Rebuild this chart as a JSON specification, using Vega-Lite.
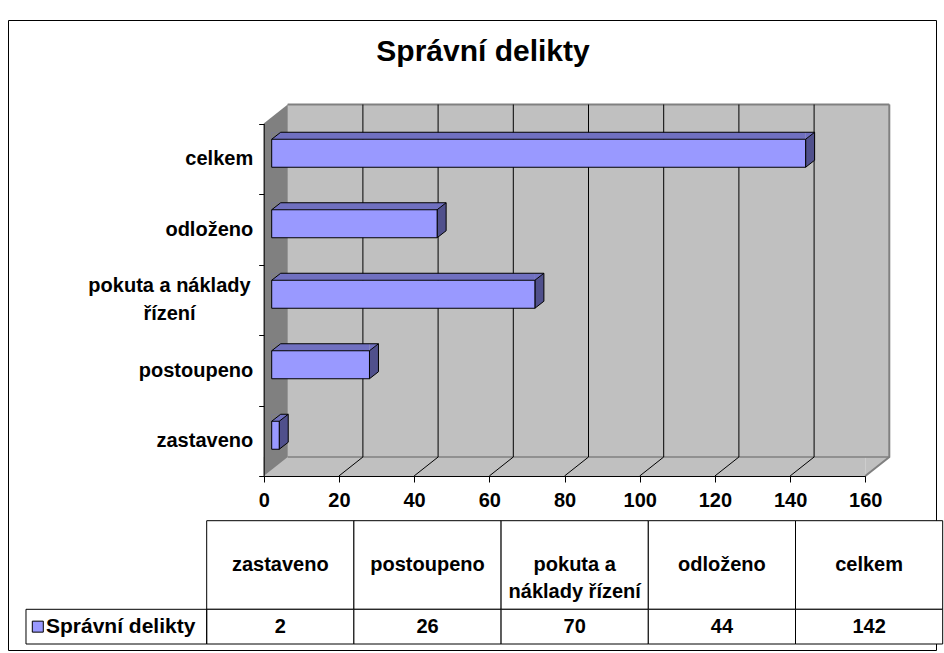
{
  "$schema": "https://vega.github.io/schema/vega-lite/v6.json",
  "width": 928,
  "height": 630,
  "autosize": {"type": "none"},
  "padding": {"left": 8, "top": 20, "right": 8, "bottom": 3},
  "background": "white",
  "config": {
    "view": {"stroke": "black", "strokeWidth": 1, "fill": "white"},
    "font": "Liberation Sans"
  },
  "title": {
    "text": "Správní delikty",
    "font": "Liberation Sans",
    "fontSize": 30,
    "fontWeight": "bold",
    "color": "black",
    "anchor": "middle",
    "frame": "group",
    "dx": 11,
    "offset": -81,
    "baseline": "alphabetic"
  },
  "data": {
    "values": [
      {"cat": "zastaveno", "value": 2, "series": "Správní delikty"},
      {"cat": "postoupeno", "value": 26, "series": "Správní delikty"},
      {"cat": "pokuta a náklady řízení", "value": 70, "series": "Správní delikty"},
      {"cat": "odloženo", "value": 44, "series": "Správní delikty"},
      {"cat": "celkem", "value": 142, "series": "Správní delikty"}
    ]
  },
  "resolve": {"scale": {"x": "independent", "y": "independent"}, "axis": {"x": "independent", "y": "independent"}},
  "layer": [
    {
      "mark": {"type": "rect", "fill": "#C0C0C0", "stroke": "#C0C0C0", "strokeWidth": 1, "xOffset": 24, "x2Offset": 24, "yOffset": -19, "y2Offset": -19},
      "encoding": {
        "x": {
          "datum": 0, "type": "quantitative",
          "scale": {"domain": [0, 160], "range": [255.7, 857.3], "nice": false, "zero": false},
          "axis": {
            "orient": "bottom", "offset": -174, "values": [0, 20, 40, 60, 80, 100, 120, 140, 160],
            "grid": false, "domain": true, "domainColor": "black", "domainWidth": 1,
            "ticks": true, "tickColor": "black", "tickSize": 6, "tickWidth": 1,
            "labelFont": "Liberation Sans", "labelFontSize": 20, "labelFontWeight": "bold", "labelColor": "black",
            "labelPadding": 8, "labelFlush": false, "labelOverlap": false, "labelBound": false,
            "title": null, "zindex": 1
          }
        },
        "x2": {"datum": 160},
        "y": {
          "field": "cat", "type": "nominal",
          "scale": {"type": "band", "domain": ["celkem", "odloženo", "pokuta a náklady řízení", "postoupeno", "zastaveno"], "range": [103.5, 456], "paddingInner": 0, "paddingOuter": 0},
          "axis": {
            "orient": "left", "offset": -255.7, "tickBand": "extent", "grid": false,
            "domainColor": "black", "domainWidth": 1, "tickColor": "black", "tickSize": 5, "tickWidth": 1,
            "labelFont": "Liberation Sans", "labelFontSize": 20, "labelFontWeight": "bold", "labelColor": "black",
            "labelLimit": 400, "labelLineHeight": 28,
            "labelExpr": "datum.value === 'pokuta a náklady řízení' ? ['pokuta a náklady', 'řízení'] : datum.label",
            "labelAlign": {"condition": {"test": "datum.value === 'pokuta a náklady řízení'", "value": "center"}, "value": "right"},
            "labelPadding": {"condition": {"test": "datum.value === 'pokuta a náklady řízení'", "value": 89.7}, "value": 6},
            "labelOffset": {"condition": {"test": "datum.value === 'pokuta a náklady řízení'", "value": -14}, "value": 0},
            "title": null, "zindex": 1
          }
        }
      }
    },
    {
      "transform": [{"filter": "datum.cat === 'celkem'"}],
      "mark": {"type": "rule", "stroke": "#808080", "strokeWidth": 2, "xOffset": 24, "x2Offset": 24, "yOffset": -54.25},
      "encoding": {
        "x": {"datum": 0, "type": "quantitative", "scale": {"domain": [0, 160], "range": [255.7, 857.3], "nice": false, "zero": false}, "axis": null},
        "x2": {"datum": 160},
        "y": {"field": "cat", "type": "nominal", "scale": {"type": "band", "domain": ["celkem", "odloženo", "pokuta a náklady řízení", "postoupeno", "zastaveno"], "range": [103.5, 456], "paddingInner": 0, "paddingOuter": 0}, "axis": null}
      }
    },
    {
      "transform": [{"filter": "datum.cat === 'zastaveno'"}],
      "mark": {"type": "bar", "size": 19, "fill": "#C0C0C0", "yOffset": 25.75, "y2Offset": 25.75},
      "encoding": {
        "x": {"datum": 0, "type": "quantitative", "scale": {"domain": [0, 160], "range": [255.7, 857.3], "nice": false, "zero": false}, "axis": null},
        "x2": {"datum": 160},
        "y": {"field": "cat", "type": "nominal", "scale": {"type": "band", "domain": ["celkem", "odloženo", "pokuta a náklady řízení", "postoupeno", "zastaveno"], "range": [103.5, 456], "paddingInner": 0, "paddingOuter": 0}, "axis": null}
      }
    },
    {
      "transform": [{"filter": "datum.cat === 'zastaveno'"}],
      "mark": {"type": "point", "shape": "M 0 35.25 L 0 16.25 L 24 16.25 Z", "size": 4, "filled": true, "fill": "#C0C0C0", "strokeWidth": 0, "opacity": 1},
      "encoding": {
        "x": {"datum": 160, "type": "quantitative", "scale": {"domain": [0, 160], "range": [255.7, 857.3], "nice": false, "zero": false}, "axis": null},
        "y": {"field": "cat", "type": "nominal", "scale": {"type": "band", "domain": ["celkem", "odloženo", "pokuta a náklady řízení", "postoupeno", "zastaveno"], "range": [103.5, 456], "paddingInner": 0, "paddingOuter": 0}, "axis": null}
      }
    },
    {
      "transform": [{"filter": "datum.cat === 'zastaveno'"}],
      "mark": {"type": "rule", "stroke": "#808080", "strokeWidth": 1.5, "xOffset": 24, "x2Offset": 24, "yOffset": 16.25},
      "encoding": {
        "x": {"datum": 0, "type": "quantitative", "scale": {"domain": [0, 160], "range": [255.7, 857.3], "nice": false, "zero": false}, "axis": null},
        "x2": {"datum": 160},
        "y": {"field": "cat", "type": "nominal", "scale": {"type": "band", "domain": ["celkem", "odloženo", "pokuta a náklady řízení", "postoupeno", "zastaveno"], "range": [103.5, 456], "paddingInner": 0, "paddingOuter": 0}, "axis": null}
      }
    },
    {
      "transform": [{"filter": "datum.cat === 'zastaveno'"}],
      "mark": {"type": "point", "shape": "M 0 35.25 L 24 16.25 L 24 -336.25", "size": 4, "filled": false, "stroke": "black", "strokeWidth": 1, "opacity": 1},
      "encoding": {
        "x": {"datum": 20, "type": "quantitative", "scale": {"domain": [0, 160], "range": [255.7, 857.3], "nice": false, "zero": false}, "axis": null},
        "y": {"field": "cat", "type": "nominal", "scale": {"type": "band", "domain": ["celkem", "odloženo", "pokuta a náklady řízení", "postoupeno", "zastaveno"], "range": [103.5, 456], "paddingInner": 0, "paddingOuter": 0}, "axis": null}
      }
    },
    {
      "transform": [{"filter": "datum.cat === 'zastaveno'"}],
      "mark": {"type": "point", "shape": "M 0 35.25 L 24 16.25 L 24 -336.25", "size": 4, "filled": false, "stroke": "black", "strokeWidth": 1, "opacity": 1},
      "encoding": {
        "x": {"datum": 40, "type": "quantitative", "scale": {"domain": [0, 160], "range": [255.7, 857.3], "nice": false, "zero": false}, "axis": null},
        "y": {"field": "cat", "type": "nominal", "scale": {"type": "band", "domain": ["celkem", "odloženo", "pokuta a náklady řízení", "postoupeno", "zastaveno"], "range": [103.5, 456], "paddingInner": 0, "paddingOuter": 0}, "axis": null}
      }
    },
    {
      "transform": [{"filter": "datum.cat === 'zastaveno'"}],
      "mark": {"type": "point", "shape": "M 0 35.25 L 24 16.25 L 24 -336.25", "size": 4, "filled": false, "stroke": "black", "strokeWidth": 1, "opacity": 1},
      "encoding": {
        "x": {"datum": 60, "type": "quantitative", "scale": {"domain": [0, 160], "range": [255.7, 857.3], "nice": false, "zero": false}, "axis": null},
        "y": {"field": "cat", "type": "nominal", "scale": {"type": "band", "domain": ["celkem", "odloženo", "pokuta a náklady řízení", "postoupeno", "zastaveno"], "range": [103.5, 456], "paddingInner": 0, "paddingOuter": 0}, "axis": null}
      }
    },
    {
      "transform": [{"filter": "datum.cat === 'zastaveno'"}],
      "mark": {"type": "point", "shape": "M 0 35.25 L 24 16.25 L 24 -336.25", "size": 4, "filled": false, "stroke": "black", "strokeWidth": 1, "opacity": 1},
      "encoding": {
        "x": {"datum": 80, "type": "quantitative", "scale": {"domain": [0, 160], "range": [255.7, 857.3], "nice": false, "zero": false}, "axis": null},
        "y": {"field": "cat", "type": "nominal", "scale": {"type": "band", "domain": ["celkem", "odloženo", "pokuta a náklady řízení", "postoupeno", "zastaveno"], "range": [103.5, 456], "paddingInner": 0, "paddingOuter": 0}, "axis": null}
      }
    },
    {
      "transform": [{"filter": "datum.cat === 'zastaveno'"}],
      "mark": {"type": "point", "shape": "M 0 35.25 L 24 16.25 L 24 -336.25", "size": 4, "filled": false, "stroke": "black", "strokeWidth": 1, "opacity": 1},
      "encoding": {
        "x": {"datum": 100, "type": "quantitative", "scale": {"domain": [0, 160], "range": [255.7, 857.3], "nice": false, "zero": false}, "axis": null},
        "y": {"field": "cat", "type": "nominal", "scale": {"type": "band", "domain": ["celkem", "odloženo", "pokuta a náklady řízení", "postoupeno", "zastaveno"], "range": [103.5, 456], "paddingInner": 0, "paddingOuter": 0}, "axis": null}
      }
    },
    {
      "transform": [{"filter": "datum.cat === 'zastaveno'"}],
      "mark": {"type": "point", "shape": "M 0 35.25 L 24 16.25 L 24 -336.25", "size": 4, "filled": false, "stroke": "black", "strokeWidth": 1, "opacity": 1},
      "encoding": {
        "x": {"datum": 120, "type": "quantitative", "scale": {"domain": [0, 160], "range": [255.7, 857.3], "nice": false, "zero": false}, "axis": null},
        "y": {"field": "cat", "type": "nominal", "scale": {"type": "band", "domain": ["celkem", "odloženo", "pokuta a náklady řízení", "postoupeno", "zastaveno"], "range": [103.5, 456], "paddingInner": 0, "paddingOuter": 0}, "axis": null}
      }
    },
    {
      "transform": [{"filter": "datum.cat === 'zastaveno'"}],
      "mark": {"type": "point", "shape": "M 0 35.25 L 24 16.25 L 24 -336.25", "size": 4, "filled": false, "stroke": "black", "strokeWidth": 1, "opacity": 1},
      "encoding": {
        "x": {"datum": 140, "type": "quantitative", "scale": {"domain": [0, 160], "range": [255.7, 857.3], "nice": false, "zero": false}, "axis": null},
        "y": {"field": "cat", "type": "nominal", "scale": {"type": "band", "domain": ["celkem", "odloženo", "pokuta a náklady řízení", "postoupeno", "zastaveno"], "range": [103.5, 456], "paddingInner": 0, "paddingOuter": 0}, "axis": null}
      }
    },
    {
      "transform": [{"filter": "datum.cat === 'zastaveno'"}],
      "mark": {"type": "point", "shape": "M 0 35.25 L 24 16.25 L 24 -336.25", "size": 4, "filled": false, "stroke": "#808080", "strokeWidth": 2, "opacity": 1},
      "encoding": {
        "x": {"datum": 160, "type": "quantitative", "scale": {"domain": [0, 160], "range": [255.7, 857.3], "nice": false, "zero": false}, "axis": null},
        "y": {"field": "cat", "type": "nominal", "scale": {"type": "band", "domain": ["celkem", "odloženo", "pokuta a náklady řízení", "postoupeno", "zastaveno"], "range": [103.5, 456], "paddingInner": 0, "paddingOuter": 0}, "axis": null}
      }
    },
    {
      "transform": [{"filter": "datum.cat === 'celkem'"}],
      "mark": {"type": "point", "shape": "M 0 -35.25 L 24 -54.25 L 24 298.25 L 0 317.25 Z", "size": 4, "filled": true, "fill": "#808080", "strokeWidth": 0, "opacity": 1},
      "encoding": {
        "x": {"datum": 0, "type": "quantitative", "scale": {"domain": [0, 160], "range": [255.7, 857.3], "nice": false, "zero": false}, "axis": null},
        "y": {"field": "cat", "type": "nominal", "scale": {"type": "band", "domain": ["celkem", "odloženo", "pokuta a náklady řízení", "postoupeno", "zastaveno"], "range": [103.5, 456], "paddingInner": 0, "paddingOuter": 0}, "axis": null}
      }
    },
    {
      "mark": {"type": "bar", "size": 7, "fill": "#7070C0", "xOffset": 8, "x2Offset": 8, "yOffset": -23, "y2Offset": -23},
      "encoding": {
        "x": {"field": "value", "type": "quantitative", "scale": {"domain": [0, 160], "range": [255.7, 857.3], "nice": false, "zero": false}, "axis": null},
        "x2": {"datum": 0},
        "y": {"field": "cat", "type": "nominal", "scale": {"type": "band", "domain": ["celkem", "odloženo", "pokuta a náklady řízení", "postoupeno", "zastaveno"], "range": [103.5, 456], "paddingInner": 0, "paddingOuter": 0}, "axis": null}
      }
    },
    {
      "mark": {"type": "point", "shape": "M 0 -14 L 9 -21 L 0 -21 Z", "size": 4, "filled": true, "fill": "#7070C0", "strokeWidth": 0, "opacity": 1, "xOffset": 8, "yOffset": -5.5},
      "encoding": {
        "x": {"field": "value", "type": "quantitative", "scale": {"domain": [0, 160], "range": [255.7, 857.3], "nice": false, "zero": false}, "axis": null},
        "y": {"field": "cat", "type": "nominal", "scale": {"type": "band", "domain": ["celkem", "odloženo", "pokuta a náklady řízení", "postoupeno", "zastaveno"], "range": [103.5, 456], "paddingInner": 0, "paddingOuter": 0}, "axis": null}
      }
    },
    {
      "mark": {"type": "point", "shape": "M 0 -14 L 9 -21 L 0 -21 Z", "size": 4, "filled": true, "fill": "#808080", "strokeWidth": 0, "opacity": 1, "xOffset": 8, "yOffset": -5.5},
      "encoding": {
        "x": {"datum": 0, "type": "quantitative", "scale": {"domain": [0, 160], "range": [255.7, 857.3], "nice": false, "zero": false}, "axis": null},
        "y": {"field": "cat", "type": "nominal", "scale": {"type": "band", "domain": ["celkem", "odloženo", "pokuta a náklady řízení", "postoupeno", "zastaveno"], "range": [103.5, 456], "paddingInner": 0, "paddingOuter": 0}, "axis": null}
      }
    },
    {
      "mark": {"type": "point", "shape": "M 0 -14 L 9 -21 L 9 7 L 0 14 Z", "size": 4, "filled": true, "fill": "#50508C", "stroke": "black", "strokeWidth": 1, "opacity": 1, "xOffset": 8, "yOffset": -5.5},
      "encoding": {
        "x": {"field": "value", "type": "quantitative", "scale": {"domain": [0, 160], "range": [255.7, 857.3], "nice": false, "zero": false}, "axis": null},
        "y": {"field": "cat", "type": "nominal", "scale": {"type": "band", "domain": ["celkem", "odloženo", "pokuta a náklady řízení", "postoupeno", "zastaveno"], "range": [103.5, 456], "paddingInner": 0, "paddingOuter": 0}, "axis": null}
      }
    },
    {
      "mark": {"type": "bar", "size": 28, "fill": "#9999FF", "stroke": "black", "strokeWidth": 1, "xOffset": 8, "x2Offset": 8, "yOffset": -5.5, "y2Offset": -5.5},
      "encoding": {
        "x": {"field": "value", "type": "quantitative", "scale": {"domain": [0, 160], "range": [255.7, 857.3], "nice": false, "zero": false}, "axis": null},
        "x2": {"datum": 0},
        "y": {"field": "cat", "type": "nominal", "scale": {"type": "band", "domain": ["celkem", "odloženo", "pokuta a náklady řízení", "postoupeno", "zastaveno"], "range": [103.5, 456], "paddingInner": 0, "paddingOuter": 0}, "axis": null}
      }
    },
    {
      "mark": {"type": "rule", "stroke": "black", "strokeWidth": 1, "xOffset": 17, "x2Offset": 17, "yOffset": -26.5},
      "encoding": {
        "x": {"field": "value", "type": "quantitative", "scale": {"domain": [0, 160], "range": [255.7, 857.3], "nice": false, "zero": false}, "axis": null},
        "x2": {"datum": 0},
        "y": {"field": "cat", "type": "nominal", "scale": {"type": "band", "domain": ["celkem", "odloženo", "pokuta a náklady řízení", "postoupeno", "zastaveno"], "range": [103.5, 456], "paddingInner": 0, "paddingOuter": 0}, "axis": null}
      }
    },
    {
      "mark": {"type": "point", "shape": "M 0 -14 L 9 -21", "size": 4, "filled": false, "stroke": "black", "strokeWidth": 1, "opacity": 1, "xOffset": 8, "yOffset": -5.5},
      "encoding": {
        "x": {"datum": 0, "type": "quantitative", "scale": {"domain": [0, 160], "range": [255.7, 857.3], "nice": false, "zero": false}, "axis": null},
        "y": {"field": "cat", "type": "nominal", "scale": {"type": "band", "domain": ["celkem", "odloženo", "pokuta a náklady řízení", "postoupeno", "zastaveno"], "range": [103.5, 456], "paddingInner": 0, "paddingOuter": 0}, "axis": null}
      }
    },
    {
      "transform": [{"calculate": "'header'", "as": "row"}],
      "mark": {"type": "rect", "fill": "white", "stroke": "black", "strokeWidth": 1},
      "encoding": {
        "x": {"field": "cat", "type": "nominal", "scale": {"type": "band", "domain": ["zastaveno", "postoupeno", "pokuta a náklady řízení", "odloženo", "celkem"], "range": [198.7, 934.7], "paddingInner": 0, "paddingOuter": 0}, "axis": null},
        "y": {"field": "row", "type": "nominal", "scale": {"type": "band", "domain": ["header"], "range": [500.7, 589.3], "paddingInner": 0, "paddingOuter": 0}, "axis": null}
      }
    },
    {
      "transform": [
        {"calculate": "'header'", "as": "row"},
        {"calculate": "datum.cat === 'pokuta a náklady řízení' ? ['pokuta a', 'náklady řízení'] : datum.cat", "as": "hdr"}
      ],
      "mark": {"type": "text", "font": "Liberation Sans", "fontSize": 20, "fontWeight": "bold", "color": "black", "lineHeight": 27, "baseline": "middle"},
      "encoding": {
        "x": {"field": "cat", "type": "nominal", "scale": {"type": "band", "domain": ["zastaveno", "postoupeno", "pokuta a náklady řízení", "odloženo", "celkem"], "range": [198.7, 934.7], "paddingInner": 0, "paddingOuter": 0}, "axis": null},
        "y": {"field": "row", "type": "nominal", "scale": {"type": "band", "domain": ["header"], "range": [500.7, 589.3], "paddingInner": 0, "paddingOuter": 0}, "axis": null},
        "text": {"field": "hdr"}
      }
    },
    {
      "transform": [{"calculate": "'value'", "as": "row"}],
      "mark": {"type": "rect", "fill": "white", "stroke": "black", "strokeWidth": 1},
      "encoding": {
        "x": {"field": "cat", "type": "nominal", "scale": {"type": "band", "domain": ["zastaveno", "postoupeno", "pokuta a náklady řízení", "odloženo", "celkem"], "range": [198.7, 934.7], "paddingInner": 0, "paddingOuter": 0}, "axis": null},
        "y": {"field": "row", "type": "nominal", "scale": {"type": "band", "domain": ["value"], "range": [589.3, 624], "paddingInner": 0, "paddingOuter": 0}, "axis": null}
      }
    },
    {
      "transform": [{"calculate": "'value'", "as": "row"}],
      "mark": {"type": "text", "font": "Liberation Sans", "fontSize": 20, "fontWeight": "bold", "color": "black", "baseline": "middle"},
      "encoding": {
        "x": {"field": "cat", "type": "nominal", "scale": {"type": "band", "domain": ["zastaveno", "postoupeno", "pokuta a náklady řízení", "odloženo", "celkem"], "range": [198.7, 934.7], "paddingInner": 0, "paddingOuter": 0}, "axis": null},
        "y": {"field": "row", "type": "nominal", "scale": {"type": "band", "domain": ["value"], "range": [589.3, 624], "paddingInner": 0, "paddingOuter": 0}, "axis": null},
        "text": {"field": "value", "type": "quantitative"}
      }
    },
    {
      "transform": [{"filter": "datum.cat === 'zastaveno'"}, {"calculate": "'value'", "as": "row"}],
      "mark": {"type": "point", "shape": "M -254.3 -17.35 L -73.6 -17.35 L -73.6 17.35 L -254.3 17.35 Z", "size": 4, "filled": false, "stroke": "black", "strokeWidth": 1, "opacity": 1},
      "encoding": {
        "x": {"field": "cat", "type": "nominal", "scale": {"type": "band", "domain": ["zastaveno", "postoupeno", "pokuta a náklady řízení", "odloženo", "celkem"], "range": [198.7, 934.7], "paddingInner": 0, "paddingOuter": 0}, "axis": null},
        "y": {"field": "row", "type": "nominal", "scale": {"type": "band", "domain": ["value"], "range": [589.3, 624], "paddingInner": 0, "paddingOuter": 0}, "axis": null}
      }
    },
    {
      "transform": [{"filter": "datum.cat === 'zastaveno'"}, {"calculate": "'value'", "as": "row"}],
      "mark": {"type": "point", "shape": "square", "size": 121, "filled": true, "fill": "#9999FF", "stroke": "black", "strokeWidth": 1, "opacity": 1, "xOffset": -242.5},
      "encoding": {
        "x": {"field": "cat", "type": "nominal", "scale": {"type": "band", "domain": ["zastaveno", "postoupeno", "pokuta a náklady řízení", "odloženo", "celkem"], "range": [198.7, 934.7], "paddingInner": 0, "paddingOuter": 0}, "axis": null},
        "y": {"field": "row", "type": "nominal", "scale": {"type": "band", "domain": ["value"], "range": [589.3, 624], "paddingInner": 0, "paddingOuter": 0}, "axis": null}
      }
    },
    {
      "transform": [{"filter": "datum.cat === 'zastaveno'"}, {"calculate": "'value'", "as": "row"}],
      "mark": {"type": "text", "font": "Liberation Sans", "fontSize": 21, "fontWeight": "bold", "color": "black", "baseline": "middle", "align": "left", "xOffset": -234.3},
      "encoding": {
        "x": {"field": "cat", "type": "nominal", "scale": {"type": "band", "domain": ["zastaveno", "postoupeno", "pokuta a náklady řízení", "odloženo", "celkem"], "range": [198.7, 934.7], "paddingInner": 0, "paddingOuter": 0}, "axis": null},
        "y": {"field": "row", "type": "nominal", "scale": {"type": "band", "domain": ["value"], "range": [589.3, 624], "paddingInner": 0, "paddingOuter": 0}, "axis": null},
        "text": {"field": "series"}
      }
    }
  ]
}
